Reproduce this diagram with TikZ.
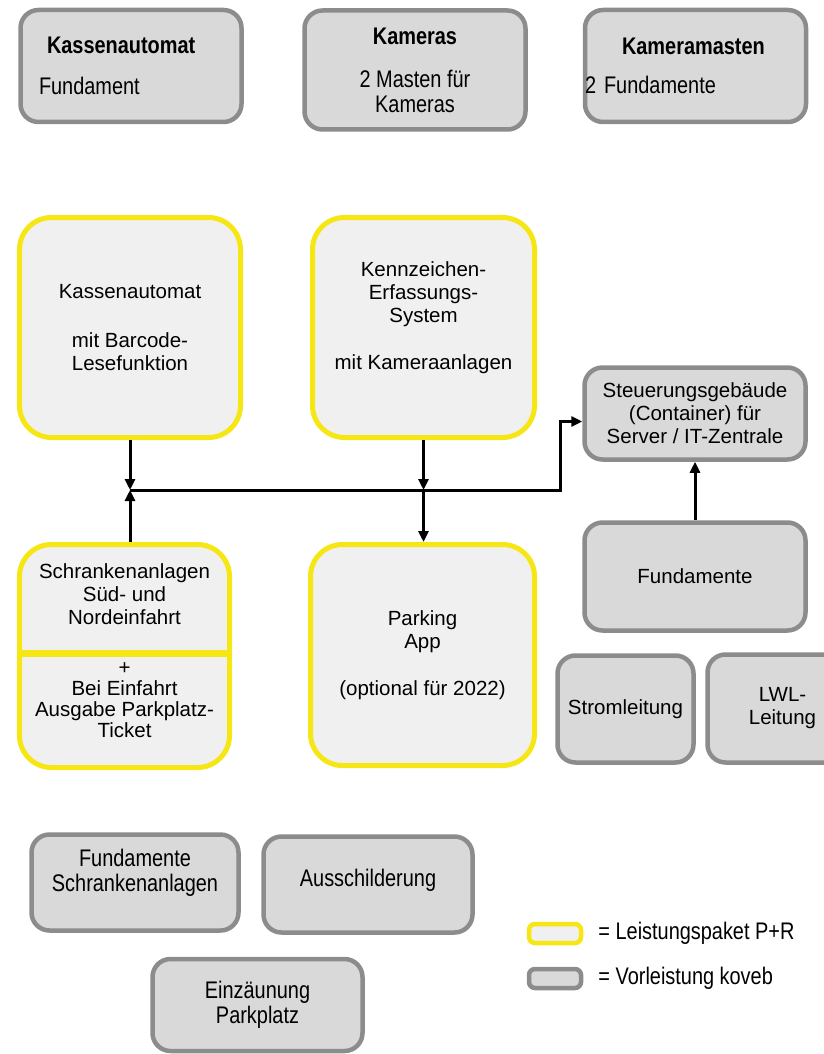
\documentclass[tikz,border=0pt]{standalone}
\usepackage{fontspec}
\setmainfont{Liberation Sans}
\newfontfamily\narrowsf[FakeStretch=0.83]{Liberation Sans}
\usetikzlibrary{arrows.meta, positioning}
\definecolor{pryellow}{RGB}{245,230,20}
\definecolor{prfill}{RGB}{240,240,240}
\definecolor{kvgray}{RGB}{140,140,140}
\definecolor{kvfill}{RGB}{217,217,217}
\newcommand{\mainfs}{\fontsize{20.5}{23}\selectfont}
\newcommand{\narrowfs}{\narrowsf\fontsize{24}{25}\selectfont}

\begin{document}
\begin{tikzpicture}[x=1pt, y=-1pt,
    prbox/.style={draw=pryellow, line width=5pt, fill=prfill, rounded corners=32pt,
      align=center, inner sep=0pt, font=\mainfs},
    kvbox/.style={draw=kvgray, line width=4.5pt, fill=kvfill, rounded corners=18pt,
      align=center, inner sep=0pt, font=\mainfs},
    narrow/.style={font=\narrowfs},
    link/.style={-{Triangle[length=11pt, width=10pt]}, line width=3pt}]
  \useasboundingbox (0,0) rectangle (823,1054);

  % Vorleistungen oben
  \node[kvbox, narrow, minimum width=221pt, minimum height=112pt, text width=184pt,
        align=left] (ka0) at (131,66)
    {\hspace*{8pt}\textbf{Kassenautomat}\\[16pt]Fundament};
  \node[kvbox, narrow, minimum width=221pt, minimum height=119pt] (cam) at (415,70)
    {\textbf{Kameras}\\[18pt]2 Masten für\\Kameras};
  \node[kvbox, narrow, minimum width=221pt, minimum height=112pt, text width=221pt,
        align=left] (mast) at (695.5,66)
    {\hspace*{37pt}\textbf{Kameramasten}\\[14pt]\mbox{2 Fundamente}};

  % Leistungspaket P+R
  \node[prbox, minimum width=221pt, minimum height=220pt] (ka) at (130,327.5)
    {Kassenautomat\\[26pt]mit Barcode-\\Lesefunktion};
  \node[prbox, minimum width=222pt, minimum height=220pt] (kes) at (423.5,327.5)
    {Kennzeichen-\\Erfassungs-\\System\\[24pt]mit Kameraanlagen\\\mbox{}};
  \node[prbox, minimum width=210pt, minimum height=223pt] (sch) at (124.5,656)
    {Schrankenanlagen\\Süd- und\\Nordeinfahrt\\[27pt]+\\[-2pt]Bei Einfahrt\\[-2pt]Ausgabe Parkplatz-\\[-2pt]Ticket\\[-12pt]\mbox{}};
  \draw[pryellow, line width=7pt] ([yshift=3pt]sch.west) -- ([yshift=3pt]sch.east);
  \node[prbox, minimum width=224pt, minimum height=221pt] (app) at (422.5,655)
    {Parking\\App\\[24pt](optional für 2022)};

  % Steuerung rechts
  \node[kvbox, minimum width=221pt, minimum height=92pt] (stg) at (695,413.5)
    {Steuerungsgebäude\\(Container) für\\Server / IT-Zentrale};
  \node[kvbox, minimum width=221pt, minimum height=108pt] (fun) at (695,576.5) {Fundamente};
  \node[kvbox, minimum width=136pt, minimum height=107pt] (strom) at (625.5,709) {Stromleitung};
  \node[kvbox, minimum width=150pt, minimum height=108pt] (lwl) at (782.5,708.5) {LWL-\\Leitung};

  % Vorleistungen unten
  \node[kvbox, narrow, minimum width=207pt, minimum height=96pt] (fs) at (135,882.5)
    {Fundamente\\Schrankenanlagen\\\mbox{}};
  \node[kvbox, narrow, minimum width=209pt, minimum height=96pt] (aus) at (368,884.5)
    {Ausschilderung\\[-11pt]\mbox{}};
  \node[kvbox, narrow, minimum width=210pt, minimum height=92pt] (zaun) at (257.5,1005)
    {Einzäunung\\Parkplatz};

  % Legende
  \node[prbox, rounded corners=6pt, line width=4.5pt, minimum width=52pt,
        minimum height=19pt] (legP) at (555,933.5) {};
  \node[kvbox, rounded corners=6pt, minimum width=52pt, minimum height=19pt]
    (legV) at (555,978.5) {};
  \node[right=15pt of legP, inner sep=0pt, font=\narrowfs] (txtP) {= Leistungspaket P+R};
  \node[right=15pt of legV, inner sep=0pt, font=\narrowfs] (txtV) {= Vorleistung koveb};

  % Verbindungen
  \coordinate (busL) at (130,490);
  \coordinate (busR) at (560,490);
  \draw[link] (ka.south) -- (busL);
  \draw[link] (busL |- sch.north) -- (busL);
  \draw[link] (busL) -- (busR) |- ([yshift=-8pt]stg.west);
  \draw[link] (kes.south) -- (kes.south |- busL);
  \draw[link] (kes.south |- busL) -- (kes.south |- app.north);
  \draw[link] (fun.north) -- (stg.south);
\end{tikzpicture}
\end{document}
